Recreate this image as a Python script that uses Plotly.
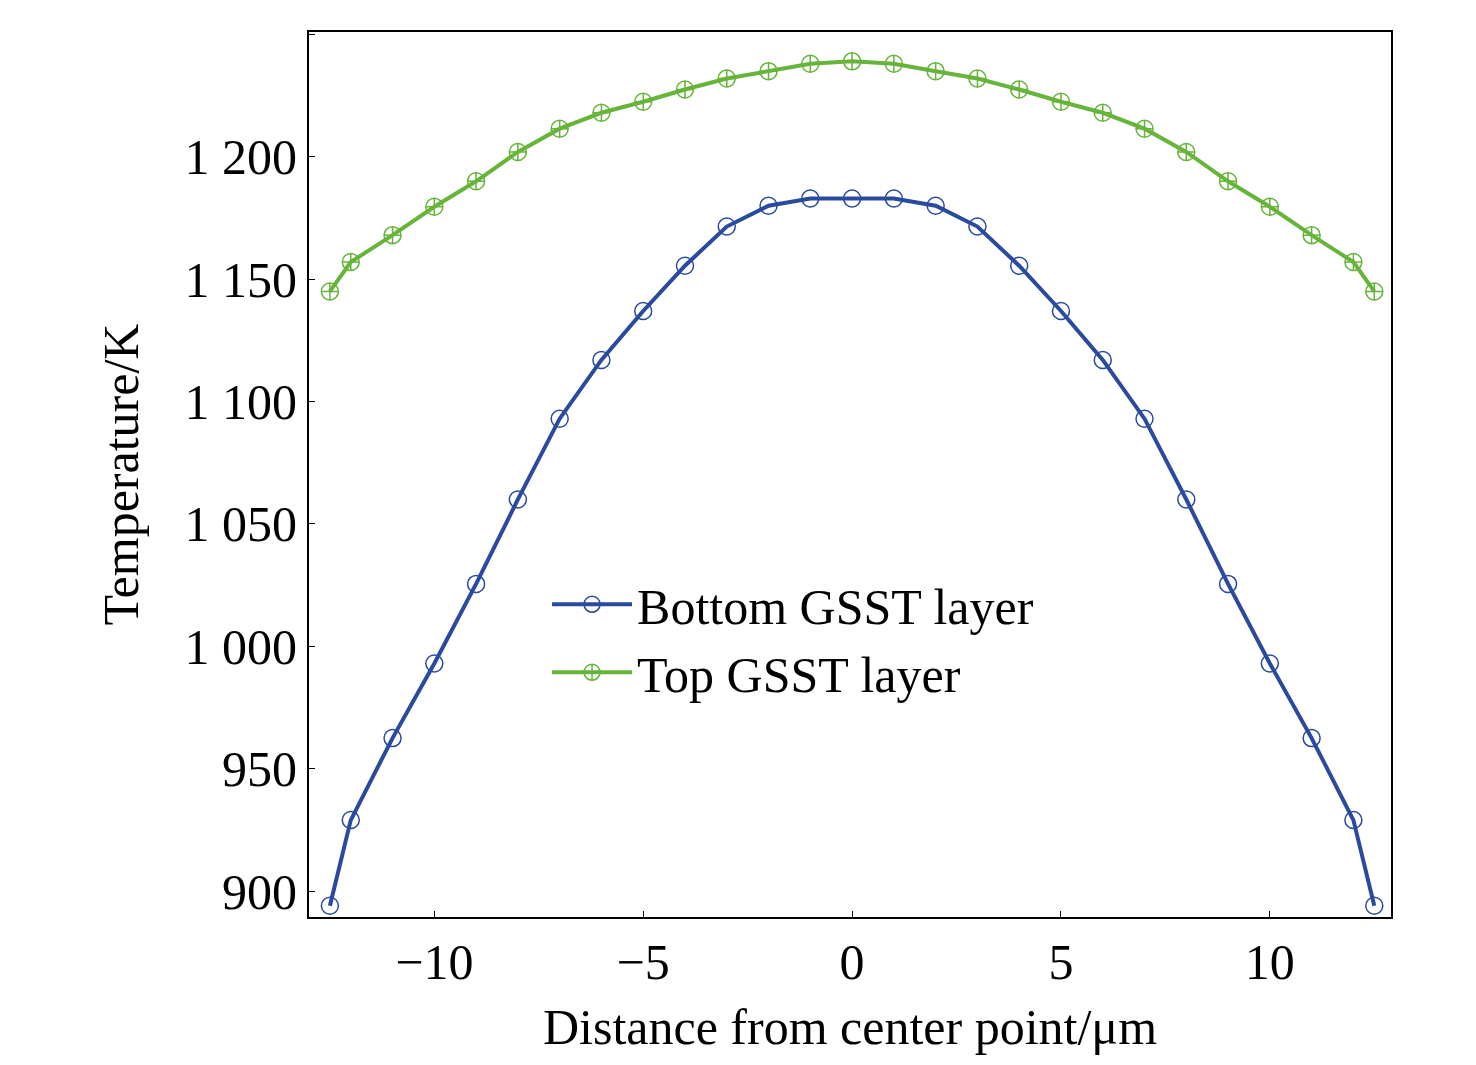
import plotly.graph_objects as go

x = [-12.5, -12, -11, -10, -9, -8, -7, -6, -5, -4, -3, -2, -1, 0,
     1, 2, 3, 4, 5, 6, 7, 8, 9, 10, 11, 12, 12.5]
bottom_half = [894, 929, 962.5, 993, 1025.5, 1060, 1093, 1117, 1137, 1155.5, 1171.5, 1180, 1183, 1183]
top_half = [1145, 1157, 1168, 1179.6, 1190, 1202, 1211.5, 1218, 1222.5, 1227.5, 1232, 1235, 1238, 1239]
bottom = bottom_half + bottom_half[-2::-1]
top = top_half + top_half[-2::-1]
yticks = [900, 950, 1000, 1050, 1100, 1150, 1200, 1250]
ytext = ['900', '950', '1 000', '1 050', '1 100', '1 150', '1 200', '1 250']

fig = go.Figure()
fig.add_trace(go.Scatter(x=x, y=bottom, mode='lines+markers', name='Bottom GSST layer',
                         line=dict(color='#2a4a9f', width=4),
                         marker=dict(symbol='circle-open', size=17, color='#2a4a9f', line=dict(width=1.5))))
fig.add_trace(go.Scatter(x=x, y=top, mode='lines+markers', name='Top GSST layer',
                         line=dict(color='#66b43a', width=4),
                         marker=dict(symbol='circle-cross-open', size=17, color='#66b43a', line=dict(width=1.5))))

axis_common = dict(showline=True, mirror=True, linecolor='black', linewidth=2, showgrid=False,
                   zeroline=False, ticks='inside', ticklen=6, tickcolor='black',
                   tickfont=dict(size=50, color='black'))
fig.update_layout(
    width=1476, height=1065, plot_bgcolor='white', paper_bgcolor='white',
    font=dict(family='Liberation Serif', color='black'),
    margin=dict(l=301, r=93, t=24, b=156),
    xaxis=dict(range=[-13, 12.9], tickvals=[-10, -5, 0, 5, 10], ticktext=['\u221210', '\u22125', '0', '5', '10'],
               title=dict(text='Distance from center point/\u03bcm', font=dict(size=50), standoff=20), **axis_common),
    yaxis=dict(range=[889.4, 1251], tickvals=yticks, ticktext=ytext,
               title=dict(text='Temperature/K', font=dict(size=50), standoff=30), **axis_common),
    legend=dict(x=0.22, y=0.315, xanchor='left', yanchor='middle', bgcolor='rgba(0,0,0,0)',
                font=dict(size=50), itemwidth=80, tracegroupgap=38),
)
fig.write_html('out.html')
